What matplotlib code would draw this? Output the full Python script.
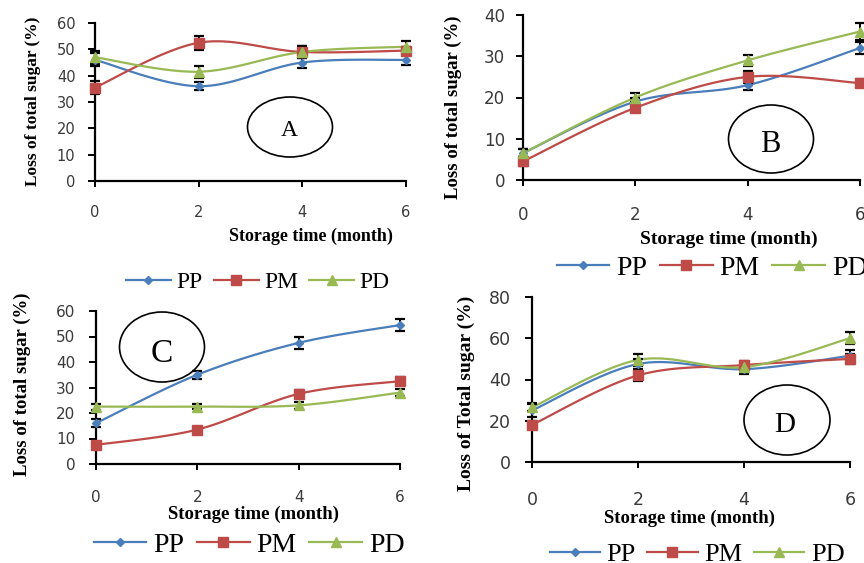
import numpy as np
import matplotlib
matplotlib.use("Agg")
import matplotlib.pyplot as plt
from matplotlib.patches import Ellipse

# ---------------- data ----------------
months = [0, 2, 4, 6]
series_names = ["PP", "PM", "PD"]

A_PP = [46, 36, 45, 46]
A_PM = [35.5, 52.5, 49, 49.5]
A_PD = [47, 41.5, 49, 51]
A_PP_err = [2.5, 1.5, 2.0, 2.0]
A_PM_err = [2.5, 2.7, 2.3, 1.5]
A_PD_err = [2.5, 2.2, 2.3, 2.0]

B_PP = [6.5, 19, 23, 32]
B_PM = [4.5, 17.5, 25, 23.5]
B_PD = [6.5, 20, 29, 36]
B_PP_err = [1.0, 1.0, 1.3, 1.4]
B_PM_err = [1.0, 1.0, 1.4, 1.0]
B_PD_err = [1.0, 1.0, 1.4, 2.0]

C_PP = [16, 35, 47.5, 54.5]
C_PM = [7.5, 13.5, 27.5, 32.5]
C_PD = [22.5, 22.5, 23, 28]
C_PP_err = [1.5, 1.5, 2.3, 2.4]
C_PM_err = [1.0, 1.0, 1.5, 1.5]
C_PD_err = [1.2, 1.0, 1.3, 1.5]

D_PP = [25, 47.5, 45, 51.5]
D_PM = [18, 42, 47, 50]
D_PD = [26.5, 49.5, 46, 60]
D_PP_err = [3.0, 2.5, 2.5, 3.0]
D_PM_err = [2.0, 2.5, 2.0, 2.5]
D_PD_err = [2.0, 3.0, 2.0, 3.0]

panel_letters = ["A", "B", "C", "D"]
y_labels = ["Loss of total sugar (%)", "Loss of total sugar (%)",
            "Loss of total sugar (%)", "Loss of Total sugar (%)"]
x_label = "Storage time (month)"

# ---------------- styling ----------------
W, H = 864, 563
colors = {"PP": "#4A7EBB", "PM": "#BE4B48", "PD": "#98B954"}
markers = {"PP": ("D", 4), "PM": ("s", 7), "PD": ("^", 7)}
tick_color = "#3a3a3a"
serif = ["Liberation Serif", "DejaVu Serif"]


def fx(px):
    return px / W


def fy(py):
    return 1 - py / H


def smooth(x, y, n=40):
    """Excel-like smoothed line (Bezier/Catmull-Rom through the data points)."""
    x = np.asarray(x, float)
    y = np.asarray(y, float)
    pts = np.column_stack([x, y])
    out = [pts[0]]
    for i in range(len(pts) - 1):
        p0 = pts[i - 1] if i > 0 else pts[i]
        p1 = pts[i]
        p2 = pts[i + 1]
        p3 = pts[i + 2] if i + 2 < len(pts) else pts[i + 1]
        c1 = p1 + (p2 - p0) / 6.0
        c2 = p2 - (p3 - p1) / 6.0
        t = np.linspace(0, 1, n)[1:, None]
        seg = ((1 - t) ** 3) * p1 + 3 * ((1 - t) ** 2) * t * c1 + 3 * (1 - t) * t ** 2 * c2 + t ** 3 * p2
        out.extend(seg)
    out = np.array(out)
    return out[:, 0], out[:, 1]


panels = [
    dict(data=[(A_PP, A_PP_err), (A_PM, A_PM_err), (A_PD, A_PD_err)],
         box=(95, 406, 181, 23), ylim=60, ystep=10, tick_fs=10.5, ypad=9, xpad=13,
         ylab=(33, 101, 12.5), xlab=(311, 236, 13), leg=(258, 282, 17),
         ell=(290, 127, 85, 60), let=(289, 131, 17)),
    dict(data=[(B_PP, B_PP_err), (B_PM, B_PM_err), (B_PD, B_PD_err)],
         box=(523, 860, 180, 15), ylim=40, ystep=10, tick_fs=12, ypad=8, xpad=15,
         ylab=(453, 107, 13.5), xlab=(729, 239, 14), leg=(712, 268, 20),
         ell=(771, 139, 85, 68), let=(770, 145, 22)),
    dict(data=[(C_PP, C_PP_err), (C_PM, C_PM_err), (C_PD, C_PD_err)],
         box=(96, 400, 464, 311), ylim=60, ystep=10, tick_fs=11, ypad=10, xpad=15,
         ylab=(22, 384, 13.5), xlab=(253, 514, 13.5), leg=(249, 545, 20),
         ell=(162, 347, 85, 70), let=(162, 354, 24)),
    dict(data=[(D_PP, D_PP_err), (D_PM, D_PM_err), (D_PD, D_PD_err)],
         box=(532, 850, 462, 297), ylim=80, ystep=20, tick_fs=12.5, ypad=10, xpad=17,
         ylab=(466, 393, 14), xlab=(689, 518, 13.5), leg=(697, 554, 19),
         ell=(787, 420, 86, 70), let=(785, 425, 21)),
]

fig = plt.figure(figsize=(W / 100, H / 100), dpi=100)
fig.patch.set_facecolor("white")

for k, p in enumerate(panels):
    x0, x6, y0, yt = p["box"]
    ax = fig.add_axes([fx(x0), fy(y0), (x6 - x0) / W, (y0 - yt) / H])
    handles = []
    for name, (vals, errs) in zip(series_names, p["data"]):
        sx, sy = smooth(months, vals)
        ax.plot(sx, sy, color=colors[name], lw=1.6, clip_on=False, zorder=3)
        ax.errorbar(months, vals, yerr=errs, fmt="none", ecolor="black",
                    elinewidth=1.4, capsize=3.5, capthick=1.6, clip_on=False, zorder=4)
        m, ms = markers[name]
        ax.plot(months, vals, linestyle="none", marker=m, markersize=ms,
                color=colors[name], clip_on=False, zorder=5)
        h, = ax.plot([], [], color=colors[name], lw=1.6, marker=m,
                     markersize=ms, label=name)
        handles.append(h)
    ax.set_xlim(0, 6)
    ax.set_ylim(0, p["ylim"])
    ax.set_xticks(months)
    ax.set_yticks(np.arange(0, p["ylim"] + 0.1, p["ystep"]))
    for s in ["top", "right"]:
        ax.spines[s].set_visible(False)
    for s in ["left", "bottom"]:
        ax.spines[s].set_linewidth(1.6)
        ax.spines[s].set_color("black")
    ax.tick_params(axis="y", direction="out", length=5, width=1.4,
                   labelsize=p["tick_fs"], labelcolor=tick_color, pad=p["ypad"])
    ax.tick_params(axis="x", direction="out", length=4, width=1.4,
                   labelsize=p["tick_fs"], labelcolor=tick_color, pad=p["xpad"])
    ax.set_facecolor("none")

    lx, ly, lfs = p["ylab"]
    fig.text(fx(lx), fy(ly), y_labels[k], rotation=90, ha="center", va="center",
             family=serif, fontweight="bold", fontsize=lfs)
    xx, xy, xfs = p["xlab"]
    fig.text(fx(xx), fy(xy), x_label, ha="center", va="center",
             family=serif, fontweight="bold", fontsize=xfs)
    gx, gy, gfs = p["leg"]
    fig.legend(handles=handles, loc="center", bbox_to_anchor=(fx(gx), fy(gy)),
               ncol=3, frameon=False, handlelength=1.9, handletextpad=0.25,
               columnspacing=0.45, borderaxespad=0, borderpad=0,
               prop={"family": serif, "size": gfs})

    ex, ey, ew, eh = p["ell"]
    fig.add_artist(Ellipse((fx(ex), fy(ey)), ew / W, eh / H, transform=fig.transFigure,
                           facecolor="none", edgecolor="black", lw=1.2))
    tx, ty, tfs = p["let"]
    fig.text(fx(tx), fy(ty), panel_letters[k], ha="center", va="center",
             family=serif, fontsize=tfs)

fig.savefig("out.png", dpi=100, facecolor="white")
